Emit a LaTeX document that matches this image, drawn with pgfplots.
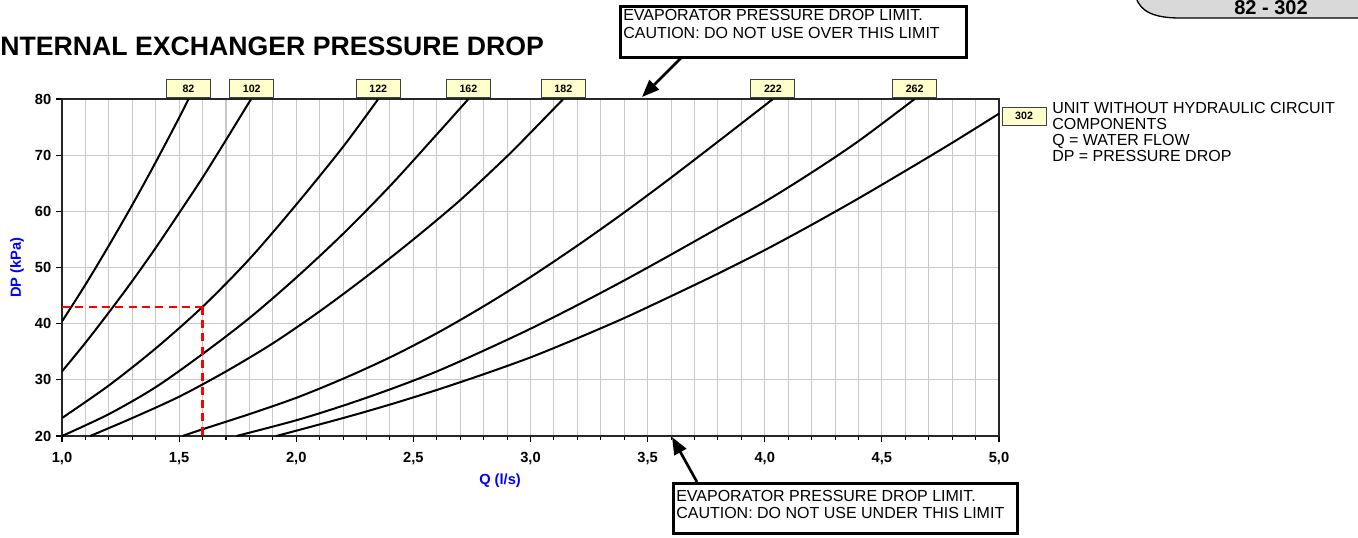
\documentclass[border=0pt]{standalone}
\usepackage{fontspec}
\setmainfont{Liberation Sans}
\usepackage{pgfplots}
\pgfplotsset{compat=1.18}
\usetikzlibrary{arrows.meta}
\definecolor{gridgray}{RGB}{200,200,200}
\definecolor{boxyellow}{RGB}{255,255,204}
\definecolor{labblue}{RGB}{0,0,255}
\definecolor{capgray}{RGB}{217,217,217}
\definecolor{dashred}{RGB}{255,0,0}
\tikzset{lab/.style={draw=black!75, fill=boxyellow, font=\bfseries\fontsize{8}{9.5}\selectfont, minimum width=33pt, minimum height=13.5pt, inner sep=1pt, line width=0.7pt}}
\begin{document}
\begin{tikzpicture}[x=0.75pt,y=-0.75pt]
\path[use as bounding box] (0,0) rectangle (1358,537);
% title
\node[anchor=base west, font=\bfseries\fontsize{20}{24}\selectfont, inner sep=0pt] at (0,55) {NTERNAL EXCHANGER PRESSURE DROP};
% top right tab
\fill[capgray] (1136,-3) .. controls (1140,12) and (1155,18) .. (1180,18) -- (1362,18) -- (1362,-3) -- cycle;
\draw[line width=1pt] (1136,-3) .. controls (1140,12) and (1155,18) .. (1180,18) -- (1362,18);
\node[anchor=base, font=\bfseries\fontsize{15}{18}\selectfont, inner sep=0pt] at (1271,14) {82 - 302};
% annotation boxes
\draw[line width=2.2pt] (620.5,6.5) rectangle (966.5,57.5);
\node[anchor=base west, font=\fontsize{12}{14.2}\selectfont, inner sep=0pt] at (623,20) {EVAPORATOR PRESSURE DROP LIMIT.};
\node[anchor=base west, font=\fontsize{12}{14.2}\selectfont, inner sep=0pt] at (623,38) {CAUTION: DO NOT USE OVER THIS LIMIT};
\draw[line width=2.2pt] (673.5,483.5) rectangle (1017.5,533.5);
\node[anchor=base west, font=\fontsize{12}{14.2}\selectfont, inner sep=0pt] at (676,501) {EVAPORATOR PRESSURE DROP LIMIT.};
\node[anchor=base west, font=\fontsize{12}{14.2}\selectfont, inner sep=0pt] at (676,518) {CAUTION: DO NOT USE UNDER THIS LIMIT};
% arrows
\draw[line width=2pt, -{Triangle[length=13pt,width=10pt]}] (681,58) -- (642,97);
\draw[line width=2pt, -{Triangle[length=13pt,width=10pt]}] (697,482) -- (672,437);
% right notes
\node[anchor=base west, font=\fontsize{12}{14.2}\selectfont, inner sep=0pt] at (1052,113) {UNIT WITHOUT HYDRAULIC CIRCUIT};
\node[anchor=base west, font=\fontsize{12}{14.2}\selectfont, inner sep=0pt] at (1052,129) {COMPONENTS};
\node[anchor=base west, font=\fontsize{12}{14.2}\selectfont, inner sep=0pt] at (1052,145) {Q = WATER FLOW};
\node[anchor=base west, font=\fontsize{12}{14.2}\selectfont, inner sep=0pt] at (1052,161) {DP = PRESSURE DROP};
\begin{axis}[
  at={(46.5pt,-327pt)}, anchor=south west,
  scale only axis, width=702.75pt, height=252.75pt,
  xmin=1, xmax=5, ymin=20, ymax=80,
  xtick distance=0.5, minor x tick num=4,
  ytick={20,30,...,80},
  tick pos=left, tick align=outside,
  major tick length=4.5pt, minor tick length=3pt,
  every tick/.style={black, line width=0.8pt},
  grid=both,
  major grid style={gridgray, line width=0.8pt},
  minor grid style={gridgray, line width=0.8pt},
  axis line style={black!85, line width=1pt},
  clip mode=individual,
  cycle list={{black, solid, mark=none}},
  x tick label style={yshift=-4.5pt, font=\bfseries\fontsize{11}{13}\selectfont, /pgf/number format/.cd, fixed, fixed zerofill, precision=1, use comma, assume math mode=true, /tikz/.cd},
  y tick label style={font=\bfseries\fontsize{11}{13}\selectfont, /pgf/number format/.cd, fixed, precision=0, assume math mode=true, /tikz/.cd},
  xlabel={Q (l/s)}, ylabel={DP (kPa)},
  xlabel style={font=\bfseries\fontsize{11}{13}\selectfont, text=labblue, at={(axis description cs:0.4675,-0.1335)}, anchor=center},
  ylabel style={font=\bfseries\fontsize{11}{13}\selectfont, text=labblue, at={(axis description cs:-0.048,0.5)}, anchor=center},
  every axis plot/.append style={line width=1.5pt, smooth, tension=0.5},
]
% 82
\addplot coordinates {(1.0,40.4) (1.1,46.95) (1.2,53.9) (1.3,61.15) (1.4,68.75) (1.5,76.67) (1.54,80)};
% 102
\addplot coordinates {(1.0,31.5) (1.1,36.6) (1.2,42.0) (1.3,47.6) (1.4,53.5) (1.5,59.7) (1.6,66.0) (1.7,72.7) (1.8,79.5) (1.81,80)};
% 122
\addplot coordinates {(1.0,23.2) (1.2,29.0) (1.4,35.6) (1.6,43.0) (1.8,51.5) (2.0,61.2) (2.2,71.5) (2.35,80)};
% 162
\addplot coordinates {(1.0,20.0) (1.2,23.9) (1.4,28.7) (1.6,34.6) (1.8,41.0) (2.0,48.2) (2.2,56.0) (2.4,64.5) (2.6,73.7) (2.735,80)};
% 182
\addplot coordinates {(1.12,20.0) (1.3,23.2) (1.5,27.0) (1.7,31.5) (1.9,36.5) (2.1,42.2) (2.3,48.4) (2.5,55.0) (2.7,62.0) (2.9,69.8) (3.0,74.0) (3.14,80)};
% 222
\addplot coordinates {(1.515,20.0) (1.6,21.2) (1.8,23.9) (2.0,26.8) (2.2,30.2) (2.4,34.0) (2.6,38.3) (2.8,43.1) (3.0,48.3) (3.2,53.9) (3.4,59.8) (3.6,66.0) (3.8,72.4) (4.035,80)};
% 262
\addplot coordinates {(1.745,20.0) (2.0,22.8) (2.2,25.4) (2.4,28.3) (2.6,31.5) (2.8,35.2) (3.0,39.1) (3.2,43.3) (3.4,47.7) (3.6,52.3) (3.8,57.0) (4.0,61.7) (4.2,66.9) (4.4,72.5) (4.64,80)};
% 302
\addplot coordinates {(1.915,20.0) (2.2,23.2) (2.4,25.6) (2.6,28.2) (2.8,31.0) (3.0,34.0) (3.2,37.4) (3.4,41.0) (3.6,44.9) (3.8,48.9) (4.0,53.1) (4.2,57.6) (4.4,62.3) (4.6,67.2) (4.8,72.2) (5.0,77.4)};
% red reading example
\addplot[dashred, line width=1.5pt, dash pattern=on 6pt off 4pt, sharp plot, mark=none] coordinates {(1.0,43) (1.6,43)};
\addplot[dashred, line width=2pt, dash pattern=on 6pt off 4pt, sharp plot, mark=none] coordinates {(1.6,43) (1.6,20)};
% curve labels
\node[lab, anchor=south, yshift=0.8pt] at (axis cs:1.54,80) {82};
\node[lab, anchor=south, yshift=0.8pt] at (axis cs:1.81,80) {102};
\node[lab, anchor=south, yshift=0.8pt] at (axis cs:2.35,80) {122};
\node[lab, anchor=south, yshift=0.8pt] at (axis cs:2.735,80) {162};
\node[lab, anchor=south, yshift=0.8pt] at (axis cs:3.14,80) {182};
\node[lab, anchor=south, yshift=0.8pt] at (axis cs:4.035,80) {222};
\node[lab, anchor=south, yshift=0.8pt] at (axis cs:4.64,80) {262};
\node[lab, anchor=west, xshift=2pt, yshift=-2pt] at (axis cs:5,77.4) {302};
\end{axis}
\end{tikzpicture}
\end{document}
